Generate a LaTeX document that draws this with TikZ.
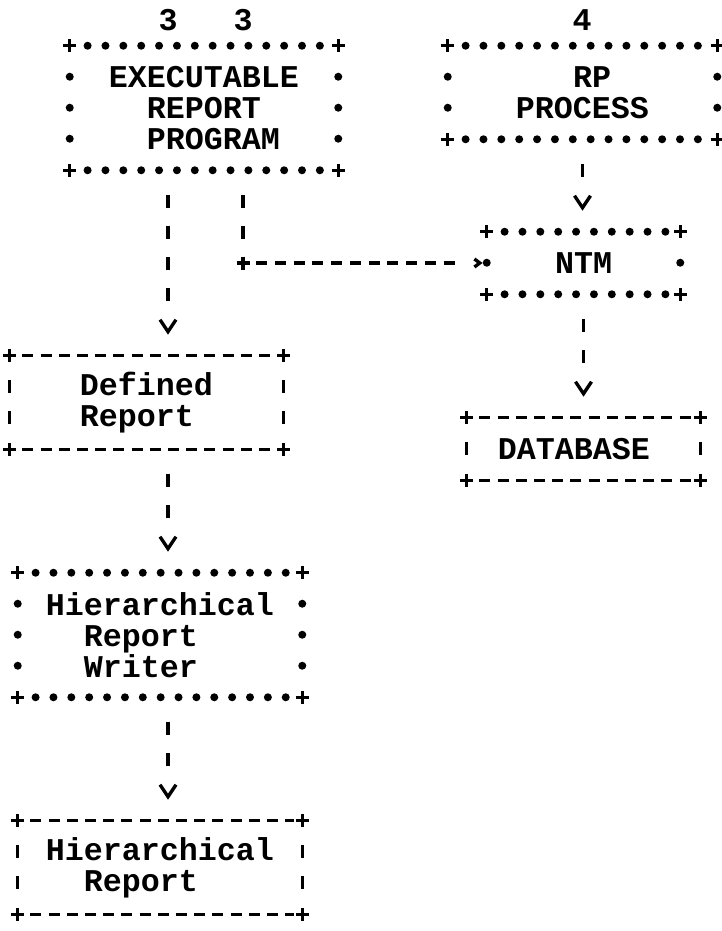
\documentclass[tikz,border=0pt]{standalone}
\usepackage{fontspec}
\setmonofont{Liberation Mono}
\usepackage{tikz}
\usetikzlibrary{decorations.markings}

% typewriter style arrow heads: the line stops short of the tip
\pgfdeclarearrow{
  name = asciiv,
  setup code = {
    \pgfarrowssettipend{0pt}
    \pgfarrowssetbackend{-9pt}
    \pgfarrowssetlineend{-11.5pt}
    \pgfarrowshullpoint{0pt}{0pt}
    \pgfarrowsupperhullpoint{-9pt}{6pt}
  },
  drawing code = {
    \pgfsetdash{}{0pt}
    \pgfsetmiterjoin
    \pgfpathmoveto{\pgfqpoint{-9pt}{6pt}}
    \pgfpathlineto{\pgfqpoint{0pt}{0pt}}
    \pgfpathlineto{\pgfqpoint{-9pt}{-6pt}}
    \pgfusepathqstroke
  }
}
\pgfdeclarearrow{
  name = asciigt,
  setup code = {
    \pgfarrowssettipend{0pt}
    \pgfarrowssetbackend{-4pt}
    \pgfarrowssetlineend{-14pt}
    \pgfarrowshullpoint{0pt}{0pt}
    \pgfarrowsupperhullpoint{-4pt}{3pt}
  },
  drawing code = {
    \pgfsetdash{}{0pt}
    \pgfsetmiterjoin
    \pgfpathmoveto{\pgfqpoint{-4pt}{3pt}}
    \pgfpathlineto{\pgfqpoint{0pt}{0pt}}
    \pgfpathlineto{\pgfqpoint{-4pt}{-3pt}}
    \pgfusepathqstroke
  }
}

\tikzset{
  box/.style={font=\ttfamily\bfseries\fontsize{23.75}{23.25}\selectfont, align=left, inner sep=0pt},
  num/.style={font=\ttfamily\bfseries\fontsize{23.75}{23.25}\selectfont, inner sep=0pt},
  stardots/.style={decoration={markings, mark=between positions 13.4pt and -6pt step 13.4pt with {\fill (0pt,0pt) circle (3pt);}}, decorate},
  starside/.style={decoration={markings, mark=between positions 23.25pt and -10pt step 23.25pt with {\fill (0pt,0pt) circle (3pt);}}, decorate},
  dashrule/.style={line width=2.5pt, dash pattern=on 8.25pt off 5.4pt, shorten <=9.5pt, shorten >=6pt},
  dashside/.style={line width=2.5pt, dash pattern=on 9.75pt off 13.5pt, shorten <=18.4pt, shorten >=10pt},
  plusmark/.style={line width=2.3pt},
  vconn/.style={line width=2.5pt, dash pattern=on 9.75pt off 13.5pt, shorten <=18.4pt},
  varrow/.style={vconn, shorten >=18pt, -{asciiv}},
  hconn/.style={line width=2.5pt, dash pattern=on 8.25pt off 5.8pt, shorten <=9.9pt, shorten >=5.25pt, -{asciigt}}
}

% "+" marks on the four corners of a box
\newcommand{\pluscorners}[1]{%
  \foreach \cn in {north west,north east,south west,south east}{
    \draw[plusmark] (#1.\cn) +(-6.5,0) -- +(6.5,0) +(0,-6.5) -- +(0,6.5);
  }}
% box drawn with asterisks
\newcommand{\starframe}[1]{%
  \path[stardots] (#1.north west) -- (#1.north east);
  \path[stardots] (#1.south west) -- (#1.south east);
  \path[starside] (#1.north west) -- (#1.south west);
  \path[starside] (#1.north east) -- (#1.south east);
  \pluscorners{#1}}
% box drawn with dashes
\newcommand{\dashframe}[1]{%
  \draw[dashrule] (#1.north west) -- (#1.north east);
  \draw[dashrule] (#1.south west) -- (#1.south east);
  \draw[dashside] (#1.north west) -- (#1.south west);
  \draw[dashside] (#1.north east) -- (#1.south east);
  \pluscorners{#1}}

\begin{document}
\begin{tikzpicture}[x=0.75pt,y=0.75pt,yscale=-1]
\useasboundingbox (0,0) rectangle (721,931);

% numbers on top
\node (lblA) [num] at (168,20) {3};
\node (lblB) [num] at (243,20) {3};
\node (lblC) [num] at (582,20) {4};

% boxes
\node (exec) [box, minimum width=201pt, minimum height=93pt] at (204,108) {EXECUTABLE\\~~REPORT\\~~PROGRAM};
\starframe{exec}
\node (rp) [box, minimum width=201.75pt, minimum height=69.75pt] at (582.5,92.5) {~~~RP\\PROCESS};
\starframe{rp}
\node (ntm) [box, minimum width=144.75pt, minimum height=46.5pt] at (583.5,263) {NTM};
\starframe{ntm}
\node (db) [box, minimum width=174.75pt, minimum height=46.5pt] at (583.5,449) {DATABASE~};
\dashframe{db}
\node (defrep) [box, minimum width=204.75pt, minimum height=69.75pt] at (146.5,402.5) {Defined\\Report};
\dashframe{defrep}
\node (hrw) [box, minimum width=213pt, minimum height=93pt] at (160,635) {Hierarchical\\~~Report\\~~Writer};
\starframe{hrw}
\node (hrep) [box, minimum width=213pt, minimum height=69.75pt] at (160,867.5) {Hierarchical\\~~Report};
\dashframe{hrep}

% connectors
\draw[varrow] (lblA |- exec.south) -- (lblA |- defrep.north);
\draw[varrow] (lblA |- defrep.south) -- (lblA |- hrw.north);
\draw[varrow] (lblA |- hrw.south) -- (lblA |- hrep.north);
\draw[varrow] (rp.south) -- (rp.south |- ntm.north);
\draw[varrow] (ntm.south) -- (ntm.south |- db.north);
\coordinate (bend) at (lblB |- ntm.west);
\draw[vconn] (lblB |- exec.south) -- (bend);
\draw[hconn] (bend) -- (ntm.west);
\draw[plusmark] (bend) +(-6.5,0) -- +(6.5,0) +(0,-6.5) -- +(0,6.5);

\end{tikzpicture}
\end{document}
